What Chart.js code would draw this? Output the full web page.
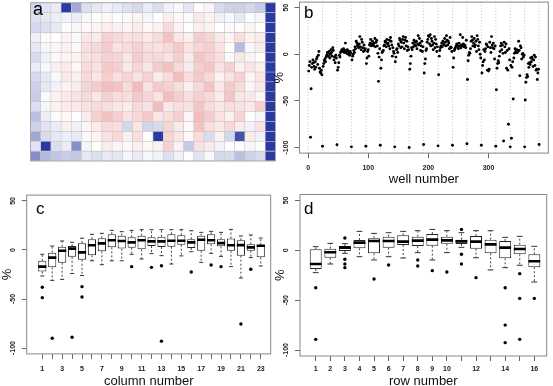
<!DOCTYPE html>
<html><head><meta charset="utf-8">
<script src="https://cdn.jsdelivr.net/npm/chart.js@4/dist/chart.umd.min.js"></script>
<style>
html,body{margin:0;padding:0;background:#fff;width:553px;height:386px;overflow:hidden;position:relative;font-family:"Liberation Sans",Arial,sans-serif}
.cv{position:absolute;left:-20px;top:-20px}
.lbl{position:absolute;line-height:1;color:#000;font-family:"Liberation Sans",Arial,sans-serif}
</style></head><body>
<canvas id="ca" class="cv" width="600" height="430"></canvas>
<canvas id="cb" class="cv" width="600" height="430"></canvas>
<canvas id="cc" class="cv" width="600" height="430"></canvas>
<canvas id="cd" class="cv" width="600" height="430"></canvas>
<div class="lbl" style="left:33px;top:0px;font-size:18px">a</div>
<div class="lbl" style="left:304px;top:4px;font-size:17px">b</div>
<div class="lbl" style="left:36px;top:200px;font-size:17px">c</div>
<div class="lbl" style="left:304px;top:200px;font-size:17px">d</div>
<script>
// ---------------- DATA ----------------
const columnNumbers = [1,2,3,4,5,6,7,8,9,10,11,12,13,14,15,16,17,18,19,20,21,22,23,24];
const rowNumbers = [1,2,3,4,5,6,7,8,9,10,11,12,13,14,15,16];
// % activity per well, plate rows 1..16, columns 1..24 (col 24 = controls)
const row01 = [-18,-12,-8,-89,-37,-14,-10,-6,-9,-13,-16,-8,-14,-5,-3,-11,-1,3,-15,-19,-20,-17,-22,-98.6];
const row02 = [-13,-10,-7,-5,-8,-3,-1,2,1,-2,3,-4,0,5,2,-2,7,4,-6,-3,-9,-1,-4,-97.1];
const row03 = [-17,-14,-9,-1,-3,2,3,5,4,3,6,2,4,12,3,1,5,4,0,2,-1,3,1,-99.3];
const row04 = [-6,-2,0,4,2,8,6,14,12,9,10,7,11,19,8,5,16,13,7,3,10,4,6,-98.6];
const row05 = [-10,-4,3,5,-2,10,12,16,9,11,14,10,9,12,17,8,13,15,9,1,-29,-3,6,-97.5];
const row06 = [-15,-6,2,3,4,9,10,14,13,8,16,11,12,9,15,6,18,14,10,-2,7,3,1,-99.3];
const row07 = [-8,-3,5,6,2,11,9,17,15,7,13,8,16,19,12,6,15,18,9,14,4,8,5,-100];
const row08 = [-16,-10,-2,7,5,12,8,15,10,13,9,14,6,11,20,10,17,12,4,9,14,3,8,-96.8];
const row09 = [-20,-10,-5,4,6,13,16,20,19,11,21,9,17,14,10,5,12,19,7,16,11,3,8,-98.2];
const row10 = [-22,-2,4,7,9,12,8,14,11,10,17,13,9,20,15,10,14,12,6,18,8,7,3,-97.5];
const row11 = [-14,-4,4,6,7,9,11,10,8,6,12,9,21,7,10,9,18,11,8,10,9,7,15,-96];
const row12 = [-27,-7,-1,2,1,6,14,19,15,9,12,17,8,10,14,3,20,16,9,5,13,0,-4,-97.5];
const row13 = [-20,-12,-8,5,-6,3,6,11,10,-17,8,-18,-16,13,7,2,19,10,7,12,6,-5,9,-98.6];
const row14 = [-38,-15,-10,-7,-9,-2,3,9,12,5,10,1,-93,13,8,2,11,-15,4,-17,-75,6,-6,-99.3];
const row15 = [-12,-90,-14,-8,-48,-4,1,6,3,2,5,2,4,14,4,-23,9,7,-5,0,1,-3,-1,-99.3];
const row16 = [-49,-30,-25,-22,-24,-10,-14,-9,-11,-4,-8,-3,-5,-13,-6,-1,-12,-3,-17,-16,-27,-20,-16,-96.8];
const plate = [row01,row02,row03,row04,row05,row06,row07,row08,row09,row10,row11,row12,row13,row14,row15,row16];
const rowBoundaryWells = [0,24,48,72,96,120,144,168,192,216,240,264,288,312,336,360,384];

// panel b tick values
const wellTicks = [0,100,200,300];
const pctTicks = [-100,-50,0,50];

// panel c: box statistics per column 1..23
const colGroups = [1,2,3,4,5,6,7,8,9,10,11,12,13,14,15,16,17,18,19,20,21,22,23];
const colTickLabels = ['1','','3','','5','','7','','9','','11','','13','','15','','17','','19','','21','','23'];
const colHi  = [-4.4,4,9.2,7.8,12,16,17,20,18.7,20,20.7,20.7,20.7,20.7,20.7,19.7,18,19,18,21,14.3,15.3,12.2];
const colQ3  = [-11,-2.7,3.4,4,7,11,12,16,14.6,13,14.6,13,13.6,16,15,11,14.6,16,11,11.6,9.9,5.8,5];
const colMed = [-17,-7.8,-0.7,1.4,-2.4,4.8,6.8,10,9.2,7.8,9.9,8.8,8.8,9.5,9.5,7.8,10.5,10,7,4.8,5,2.7,4.4];
const colQ1  = [-22,-17.7,-13,-7,-10,-5.4,-1.4,2.7,1.4,2.4,0.7,4,3,3.4,5.4,2,-0.7,5.8,3.7,-0.7,-5.8,-0.7,-7.5];
const colLo  = [-26.5,-31,-30,-24,-26,-11,-15,-11,-11,-4.4,-9.2,-3.7,-5.8,-14.3,-6,-1.7,-12.6,-3.4,-6.5,-17,-28.6,-7.8,-16.3];
const colOutlierGroup = [1,1,2,4,5,5,10,12,13,13,16,18,19,21,22];
const colOutlierValue = [-38,-48.6,-90,-89,-37.4,-48,-17,-17.7,-16,-93,-22.4,-15.3,-17,-75.5,-19.7];

// panel d: box statistics per row 1..16
const rowTickLabels = ['1','2','3','4','5','6','7','8','9','10','','12','','14','','16'];
const rowHi  = [3.7,7,6.7,19,17,17.7,19,19.7,21,19.7,17.7,19.7,19.7,13,14,4];
const rowQ3  = [1,1.7,4.3,10.4,12,13.7,15,13.7,16.4,13.7,10.7,14.4,10.7,9.4,5.7,-4];
const rowMed = [-13.7,-2,2.7,7.7,9.4,9.4,8.7,9.7,10.7,10,9,8.7,6,2.7,1.3,-11];
const rowQ1  = [-18.7,-7.4,-0.7,2,-3,2.7,5.4,4.3,4.7,6.7,6.4,1.7,-3,-8,-4,-17];
const rowLo  = [-22.4,-13.7,-3,-6.4,-9.7,-6.4,-7.7,-2.3,-9.7,-2.3,3,-7.4,-19.7,-17.4,-15,-31.8];
const rowOutlierGroup = [1,1,3,3,3,3,5,6,8,8,9,10,11,11,11,12,14,14,14,15,15,15,16];
const rowOutlierValue = [-37.5,-89.3,12.4,-9,-13.7,-17.4,-28.8,-14.7,-9.7,-15.7,-20.4,-21.7,21,-4,-13.7,-27.4,-37.5,-75,-92.6,-23.4,-48.2,-89.3,-48.2];

// ---------------- STYLE / LAYOUT ----------------
const FONT = "'Liberation Sans', Arial, sans-serif";
const OFF = 20, CW = 600, CH = 430;
const Y_MIN = -106, Y_MAX = 56;
const YW = 27.5;

function pad(L, T, R, B, yw, xh) {
  return {left: L + OFF - yw, top: T + OFF, right: CW - (R + OFF), bottom: CH - (B + OFF) - xh};
}

const framePlugin = {
  id: 'frame',
  afterDraw(chart, args, opts) {
    const {ctx, chartArea: a} = chart;
    ctx.save();
    ctx.strokeStyle = opts.color || '#888';
    ctx.lineWidth = 1;
    ctx.strokeRect(a.left, a.top, a.right - a.left, a.bottom - a.top);
    ctx.restore();
  }
};

function baseOptions(padding, frameColor) {
  return {
    responsive: false, animation: false, events: [],
    layout: {padding},
    plugins: {legend: {display: false}, tooltip: {enabled: false}, frame: {color: frameColor}}
  };
}

function yAxis() {
  return {
    type: 'linear', min: Y_MIN, max: Y_MAX,
    afterBuildTicks: s => { s.ticks = pctTicks.map(v => ({value: v})); },
    afterFit: s => { s.width = YW; },
    grid: {display: true, drawOnChartArea: false, drawTicks: true, tickLength: 5, color: '#666'},
    border: {display: false},
    ticks: {autoSkip: false, minRotation: 90, maxRotation: 90, crossAlign: 'center', padding: 1.5,
            font: {size: 7, family: FONT, weight: 'bold'}, color: '#1a1a1a'},
    title: {display: true, text: '%', font: {size: 13, family: FONT}, color: '#111', padding: {top: 0, bottom: 0}}
  };
}

function xAxis(min, max, tickVals, labels, title, xh, tpad) {
  return {
    type: 'linear', min, max, offset: false,
    afterBuildTicks: s => { s.ticks = tickVals.map(v => ({value: v})); },
    afterFit: s => { s.height = xh; },
    grid: {display: true, drawOnChartArea: false, drawTicks: true, tickLength: 5, color: '#666', offset: false},
    border: {display: false},
    ticks: {autoSkip: false, minRotation: 0, maxRotation: 0, padding: tpad,
            font: {size: 7, family: FONT, weight: 'bold'}, color: '#1a1a1a',
            callback: (v, i) => labels[i]},
    title: {display: true, text: title, font: {size: 13, family: FONT}, color: '#111', padding: {top: 0, bottom: 0}}
  };
}

function heatColor(v) {
  const mix = (c, t) => 'rgb(' + c.map(ch => Math.round(255 + (ch - 255) * t)).join(',') + ')';
  if (v < 0) return mix([42, 58, 162], Math.min(-v / 85, 1));
  return mix([232, 118, 118], Math.min(v / 42, 1));
}

// ---------------- PANEL a : heatmap ----------------
new Chart(document.getElementById('ca'), {
  type: 'bar',
  data: {
    labels: columnNumbers,
    datasets: plate.map((row, r) => ({
      data: row.map(() => [r, r + 1]),
      backgroundColor: row.map(heatColor),
      borderColor: '#c8c8c8', borderWidth: 0.6, borderSkipped: false,
      barPercentage: 1, categoryPercentage: 1, grouped: false
    }))
  },
  options: Object.assign(baseOptions({left: 30.5 + OFF, top: 2.7 + OFF, right: CW - (275.5 + OFF), bottom: CH - (161 + OFF)}, '#aaaaaa'), {
    scales: {
      x: {display: false, offset: true},
      y: {display: false, min: 0, max: rowNumbers.length, reverse: true}
    }
  }),
  plugins: [framePlugin]
});

// ---------------- PANEL b : scatter by well ----------------
const nCols = columnNumbers.length;
const wellPoints = plate.flatMap((row, r) => row.map((v, c) => ({x: r * nCols + c + 1, y: v})));
const sepLines = rowBoundaryWells.flatMap(w => [{x: w, y: Y_MIN}, {x: w, y: Y_MAX}, {x: w, y: null}]);
new Chart(document.getElementById('cb'), {
  type: 'scatter',
  data: {datasets: [
    {type: 'line', data: sepLines, borderColor: '#c4c4c4', borderWidth: 1, borderDash: [1, 2],
     pointRadius: 0, spanGaps: false, order: 2},
    {data: wellPoints, pointRadius: 1.45, backgroundColor: '#000', borderWidth: 0, order: 1}
  ]},
  options: Object.assign(baseOptions(pad(299.5, 2.1, 548.3, 153.1, YW, 33.7), '#888'), {
    scales: {
      x: xAxis(-14.3, 399.3, wellTicks, wellTicks.map(String), 'well number', 33.7, 5.7),
      y: yAxis()
    }
  }),
  plugins: [framePlugin]
});

// ---------------- box plot helper ----------------
function boxDatasets(groups, lo, q1, med, q3, hi, outG, outV, medR, capR) {
  const upper = groups.flatMap((g, i) => [{x: g, y: q3[i]}, {x: g, y: hi[i]}, {x: g, y: null}]);
  const lower = groups.flatMap((g, i) => [{x: g, y: q1[i]}, {x: g, y: lo[i]}, {x: g, y: null}]);
  return [
    {type: 'bar', data: groups.map((g, i) => ({x: g, y: [q1[i], q3[i]]})),
     backgroundColor: '#fff', borderColor: '#222', borderWidth: 1, borderSkipped: false,
     barPercentage: 0.82, categoryPercentage: 1, order: 3},
    {type: 'line', data: upper, borderColor: '#444', borderWidth: 1, borderDash: [2, 2], pointRadius: 0, spanGaps: false, order: 4},
    {type: 'line', data: lower, borderColor: '#444', borderWidth: 1, borderDash: [2, 2], pointRadius: 0, spanGaps: false, order: 4},
    {type: 'scatter', data: groups.map((g, i) => ({x: g, y: med[i]})), pointStyle: 'line', pointRadius: medR,
     borderColor: '#000', borderWidth: 2.6, order: 1},
    {type: 'scatter', data: groups.flatMap((g, i) => [{x: g, y: hi[i]}, {x: g, y: lo[i]}]), pointStyle: 'line',
     pointRadius: capR, borderColor: '#333', borderWidth: 1, order: 1},
    {type: 'scatter', data: outG.map((g, i) => ({x: g, y: outV[i]})), pointRadius: 1.7,
     backgroundColor: '#000', borderWidth: 0, order: 1}
  ];
}

// ---------------- PANEL c : by column ----------------
new Chart(document.getElementById('cc'), {
  type: 'bar',
  data: {datasets: boxDatasets(colGroups, colLo, colQ1, colMed, colQ3, colHi, colOutlierGroup, colOutlierValue, 4.1, 2)},
  options: Object.assign(baseOptions(pad(26.7, 195.1, 270.7, 353.9, YW, 34.9), '#888'), {
    scales: {
      x: xAxis(-0.57, 24.0, colGroups, colTickLabels, 'column number', 34.9, 5.6),
      y: yAxis()
    }
  }),
  plugins: [framePlugin]
});

// ---------------- PANEL d : by row ----------------
new Chart(document.getElementById('cd'), {
  type: 'bar',
  data: {datasets: boxDatasets(rowNumbers, rowLo, rowQ1, rowMed, rowQ3, rowHi, rowOutlierGroup, rowOutlierValue, 5.9, 2.9)},
  options: Object.assign(baseOptions(pad(300, 194.5, 546.7, 356, YW, 32.8), '#888'), {
    scales: {
      x: xAxis(-0.08, 16.85, rowNumbers, rowTickLabels, 'row number', 32.8, 3.5),
      y: yAxis()
    }
  }),
  plugins: [framePlugin]
});
</script>
</body></html>
